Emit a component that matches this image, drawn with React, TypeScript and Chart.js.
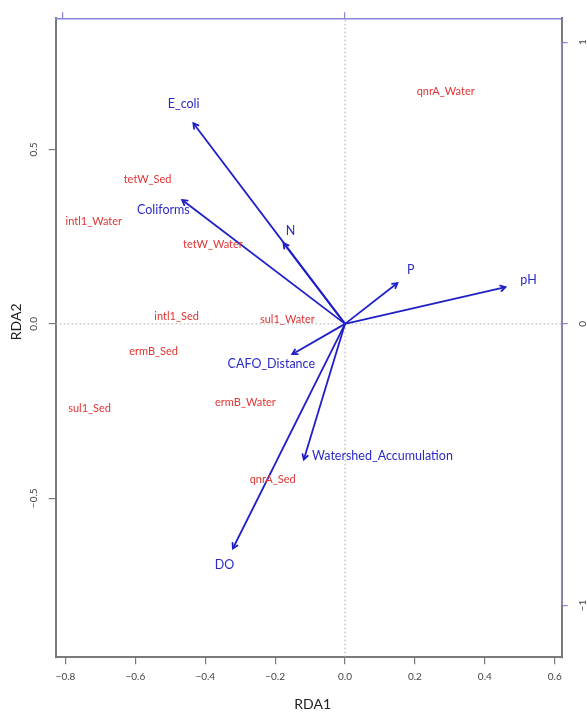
import React, { useEffect, useRef } from "react";
import { Chart, registerables } from "chart.js";

Chart.register(...registerables);

// ---- data ----
const envNames = ["E_coli", "Coliforms", "N", "P", "pH", "CAFO_Distance", "Watershed_Accumulation", "DO"];
const envX = [-0.434, -0.466, -0.176, 0.15, 0.459, -0.151, -0.118, -0.321];
const envY = [0.575, 0.355, 0.231, 0.117, 0.105, -0.087, -0.389, -0.644];
const envLabelX = [-0.462, -0.52, -0.156, 0.188, 0.525, -0.211, 0.107, -0.345];
const envLabelY = [0.63, 0.326, 0.267, 0.154, 0.125, -0.116, -0.378, -0.692];

const geneNames = ["qnrA_Water", "tetW_Sed", "intl1_Water", "tetW_Water", "intl1_Sed", "sul1_Water", "ermB_Sed", "sul1_Sed", "ermB_Water", "qnrA_Sed"];
const geneX = [0.288, -0.565, -0.719, -0.378, -0.482, -0.165, -0.548, -0.731, -0.285, -0.207];
const geneY = [0.667, 0.414, 0.294, 0.228, 0.02, 0.013, -0.078, -0.242, -0.224, -0.446];

const xTicks = [-0.8, -0.6, -0.4, -0.2, 0, 0.2, 0.4, 0.6];
const yTicks = [-0.5, 0, 0.5];
const rightTicks = [-1, 0, 1];
const topTicks = [-1, 0];
const xRange = [-0.828, 0.62];
const yRange = [-0.956, 0.876];
const secondaryFactor = 1.238;

// ---- styles ----
const FONT = "Lato, 'Liberation Sans', sans-serif";
const RED = "#e03535";
const BLUE_TEXT = "#2b2bc4";
const BLUE_ARROW = "#1f1fc8";
const AXIS_BLUE = "#8585dc";
const FRAME = "#7a7a7a";
const TICK_TEXT = "#444444";

const fmt = (v: number, d: number) => (v < 0 ? "\u2212" : "") + Math.abs(v).toFixed(d);

const overlay = {
  id: "overlay",
  afterDatasetsDraw(chart: any) {
    const ctx = chart.ctx;
    ctx.save();
    chart.data.datasets.forEach((ds: any, i: number) => {
      const meta = chart.getDatasetMeta(i);
      if (ds.kind === "arrow") {
        const p0 = meta.data[0];
        const p1 = meta.data[1];
        const ang = Math.atan2(p1.y - p0.y, p1.x - p0.x);
        const L = 5.5;
        const a = Math.PI / 6;
        ctx.strokeStyle = BLUE_ARROW;
        ctx.lineWidth = 1.8;
        ctx.lineCap = "round";
        ctx.beginPath();
        ctx.moveTo(p1.x - L * Math.cos(ang - a), p1.y - L * Math.sin(ang - a));
        ctx.lineTo(p1.x, p1.y);
        ctx.lineTo(p1.x - L * Math.cos(ang + a), p1.y - L * Math.sin(ang + a));
        ctx.stroke();
      } else if (ds.kind === "labels") {
        ctx.fillStyle = ds.textColor;
        ctx.font = ds.textFont;
        ctx.textAlign = "center";
        ctx.textBaseline = "middle";
        meta.data.forEach((pt: any, j: number) => {
          ctx.fillText(ds.names[j], pt.x, pt.y);
        });
      }
    });
    ctx.restore();
  },
  afterDraw(chart: any) {
    const ctx = chart.ctx;
    const ca = chart.chartArea;
    const y2 = chart.scales.y2;
    ctx.save();
    // blue right axis line between its outer ticks
    ctx.strokeStyle = AXIS_BLUE;
    ctx.lineWidth = 1.5;
    ctx.beginPath();
    ctx.moveTo(ca.right, y2.getPixelForValue(rightTicks[rightTicks.length - 1]));
    ctx.lineTo(ca.right, y2.getPixelForValue(rightTicks[0]));
    ctx.stroke();
    // axis titles
    ctx.fillStyle = "#222222";
    ctx.font = `14px ${FONT}`;
    ctx.textAlign = "center";
    ctx.textBaseline = "middle";
    ctx.fillText("RDA1", (ca.left + ca.right) / 2 + 4, 704);
    ctx.translate(16, (ca.top + ca.bottom) / 2 - 16);
    ctx.rotate(-Math.PI / 2);
    ctx.fillText("RDA2", 0, 0);
    ctx.restore();
  },
};

export default function App() {
  const ref = useRef<HTMLCanvasElement | null>(null);

  useEffect(() => {
    if (!ref.current) return;

    const arrowSets = envNames.map((name, i) => ({
      kind: "arrow",
      label: name,
      type: "scatter",
      data: [
        { x: 0, y: 0 },
        { x: envX[i], y: envY[i] },
      ],
      showLine: true,
      borderColor: BLUE_ARROW,
      borderWidth: 1.8,
      pointRadius: 0,
      order: 1,
    }));

    const zeroSets = [
      {
        kind: "zero",
        type: "scatter",
        data: [
          { x: xRange[0], y: 0 },
          { x: xRange[1], y: 0 },
        ],
        showLine: true,
        borderColor: "#a8a8a8",
        borderWidth: 1,
        borderDash: [1.5, 2.5],
        pointRadius: 0,
        order: 10,
      },
      {
        kind: "zero",
        type: "scatter",
        data: [
          { x: 0, y: yRange[0] },
          { x: 0, y: yRange[1] },
        ],
        showLine: true,
        borderColor: "#a8a8a8",
        borderWidth: 1,
        borderDash: [1.5, 2.5],
        pointRadius: 0,
        order: 10,
      },
    ];

    const geneSet = {
      kind: "labels",
      names: geneNames,
      textColor: RED,
      textFont: `11px ${FONT}`,
      type: "scatter",
      data: geneX.map((x, i) => ({ x, y: geneY[i] })),
      pointRadius: 0,
      order: 5,
    };

    const envLabelSet = {
      kind: "labels",
      names: envNames,
      textColor: BLUE_TEXT,
      textFont: `12.5px ${FONT}`,
      type: "scatter",
      data: envLabelX.map((x, i) => ({ x, y: envLabelY[i] })),
      pointRadius: 0,
      order: 5,
    };

    const tickFont = { family: FONT, size: 10 };

    const chart = new Chart(ref.current, {
      type: "scatter",
      data: { datasets: [...zeroSets, ...arrowSets, geneSet, envLabelSet] as any },
      options: {
        animation: false,
        responsive: false,
        devicePixelRatio: 1,
        events: [],
        layout: { padding: 0 },
        plugins: { legend: { display: false }, tooltip: { enabled: false } },
        scales: {
          x: {
            type: "linear",
            position: "bottom",
            min: xRange[0],
            max: xRange[1],
            afterBuildTicks: (s: any) => {
              s.ticks = xTicks.map((v) => ({ value: v }));
            },
            afterFit: (s: any) => {
              s.height = 55.7;
            },
            ticks: {
              callback: (v: any) => fmt(Number(v), 1),
              font: tickFont,
              color: TICK_TEXT,
              padding: 6,
              maxRotation: 0,
              autoSkip: false,
            },
            grid: { drawOnChartArea: false, drawTicks: true, tickLength: 7, color: FRAME, lineWidth: 1.2 },
            border: { display: true, color: FRAME, width: 2 },
          },
          y: {
            type: "linear",
            position: "left",
            min: yRange[0],
            max: yRange[1],
            afterBuildTicks: (s: any) => {
              s.ticks = yTicks.map((v) => ({ value: v }));
            },
            afterFit: (s: any) => {
              s.width = 55.7;
            },
            ticks: {
              callback: (v: any) => fmt(Number(v), 1),
              font: tickFont,
              color: TICK_TEXT,
              minRotation: 90,
              maxRotation: 90,
              crossAlign: "center",
              padding: 5,
              autoSkip: false,
            },
            grid: { drawOnChartArea: false, drawTicks: true, tickLength: 7, color: FRAME, lineWidth: 1.2 },
            border: { display: true, color: FRAME, width: 2 },
          },
          x2: {
            type: "linear",
            axis: "x",
            position: "top",
            min: xRange[0] * secondaryFactor,
            max: xRange[1] * secondaryFactor,
            afterBuildTicks: (s: any) => {
              s.ticks = topTicks.map((v) => ({ value: v }));
            },
            afterFit: (s: any) => {
              s.height = 18.3;
            },
            ticks: { display: false },
            grid: { drawOnChartArea: false, drawTicks: true, tickLength: 6, color: AXIS_BLUE, lineWidth: 1.2 },
            border: { display: true, color: AXIS_BLUE, width: 1.5 },
          },
          y2: {
            type: "linear",
            axis: "y",
            position: "right",
            min: yRange[0] * secondaryFactor,
            max: yRange[1] * secondaryFactor,
            afterBuildTicks: (s: any) => {
              s.ticks = rightTicks.map((v) => ({ value: v }));
            },
            afterFit: (s: any) => {
              s.width = 25.3;
            },
            ticks: {
              callback: (v: any) => fmt(Number(v), 0),
              font: tickFont,
              color: TICK_TEXT,
              minRotation: 90,
              maxRotation: 90,
              crossAlign: "center",
              padding: 9,
              autoSkip: false,
            },
            grid: { drawOnChartArea: false, drawTicks: true, tickLength: 6, color: AXIS_BLUE, lineWidth: 1.2 },
            border: { display: true, color: FRAME, width: 2 },
          },
        },
      } as any,
      plugins: [overlay],
    });

    return () => chart.destroy();
  }, []);

  return (
    <div style={{ position: "absolute", left: 0, top: 0, width: 587, height: 713, background: "#ffffff" }}>
      <canvas ref={ref} width={587} height={713} style={{ display: "block" }} />
    </div>
  );
}
